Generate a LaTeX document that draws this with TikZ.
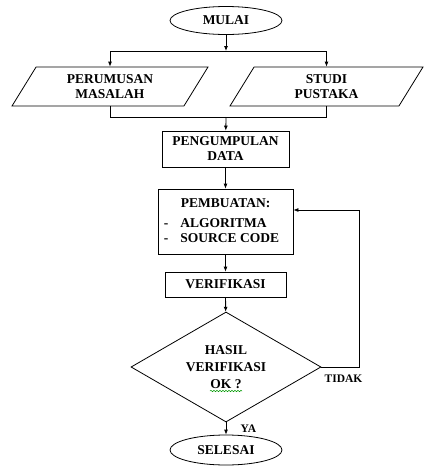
\documentclass[tikz,border=0pt]{standalone}
\usepackage{fontspec}
\setmainfont{Liberation Serif}[BoldFont={Liberation Serif Bold}]
\usepackage{tikz}
\usetikzlibrary{shapes.geometric,arrows.meta,decorations.pathmorphing}
\begin{document}
\begin{tikzpicture}[x=1pt,y=-1pt,
  line width=0.8pt,
  every node/.style={font=\rmfamily\bfseries\fontsize{13.5}{15}\selectfont},
  term/.style={draw,ellipse,minimum width=112,minimum height=28,inner sep=0pt},
  para/.style={draw,trapezium,trapezium left angle=45,trapezium right angle=135,
    trapezium stretches body,minimum height=39,align=center,inner sep=0pt},
  proc/.style={draw,rectangle,align=center,inner sep=0pt},
  dec/.style={draw,diamond,aspect=1.73,minimum width=190,minimum height=110,
    align=center,inner sep=0pt},
  arr/.style={-{Latex[length=5pt,width=4pt]}}]
\useasboundingbox (0,0) rectangle (424,467);
% start and the two first steps:
\node[term] (mulai) at (226,20.5) {MULAI};
\coordinate (split) at (226,51);
\node[para,minimum width=196] (rumus) at (110,86.5) {PERUMUSAN\\MASALAH};
\node[para,minimum width=193] (studi) at (326.5,86.5) {STUDI\\PUSTAKA};
\coordinate (merge) at (226,117);
% process boxes:
\node[proc,minimum width=127,minimum height=36] (kumpul) at (225.5,149) {PENGUMPULAN\\DATA};
\node[proc,minimum width=135,minimum height=65] (buat) at (225.5,221.5)
  {\begin{tabular}{@{}l@{\hspace{12pt}}l@{\hspace{8pt}}}
   \multicolumn{2}{c}{PEMBUATAN:}\\[5pt]
   - & ALGORITMA\\
   - & SOURCE CODE
   \end{tabular}};
\node[proc,minimum width=121,minimum height=25] (verif) at (225.5,284.5) {VERIFIKASI};
% decision and end:
\node[dec] (hasil) at (226,367) {HASIL\\[2pt]VERIFIKASI\\[2pt]OK ?};
\node[term,minimum height=30] (selesai) at (226,450) {SELESAI};
\coordinate (loop) at (359,210);
\coordinate (ok) at (226,391);
\node[anchor=west] (tidak) at (321,379) {\fontsize{11.5}{12}\selectfont TIDAK};
\node[anchor=west] (ya) at (237,429) {\fontsize{11.5}{12}\selectfont YA};
% connectors:
\draw[arr] (mulai) -- (split);
\draw (split -| rumus.center) -- (split -| studi.center);
\draw[arr] (split -| rumus.center) -- (rumus.north -| rumus.center);
\draw[arr] (split -| studi.center) -- (studi.north -| studi.center);
\draw (rumus.south -| rumus.center) -- (merge -| rumus.center) -- (merge -| studi.center)
  -- (studi.south -| studi.center);
\draw[arr] (merge) -- (kumpul);
\draw[arr] (kumpul) -- (buat);
\draw[arr] (buat) -- (verif);
\draw[arr] (verif) -- (hasil);
\draw[arr] (hasil.east) -- (hasil.east -| loop) -- (loop) -- (buat.east |- loop);
\draw[arr] (hasil) -- (selesai);
\draw[green!60!black,line width=0.5pt,decorate,decoration={snake,amplitude=0.7pt,segment length=3pt}]
  ([xshift=-16pt]ok) -- ([xshift=16pt]ok);
\end{tikzpicture}
\end{document}
